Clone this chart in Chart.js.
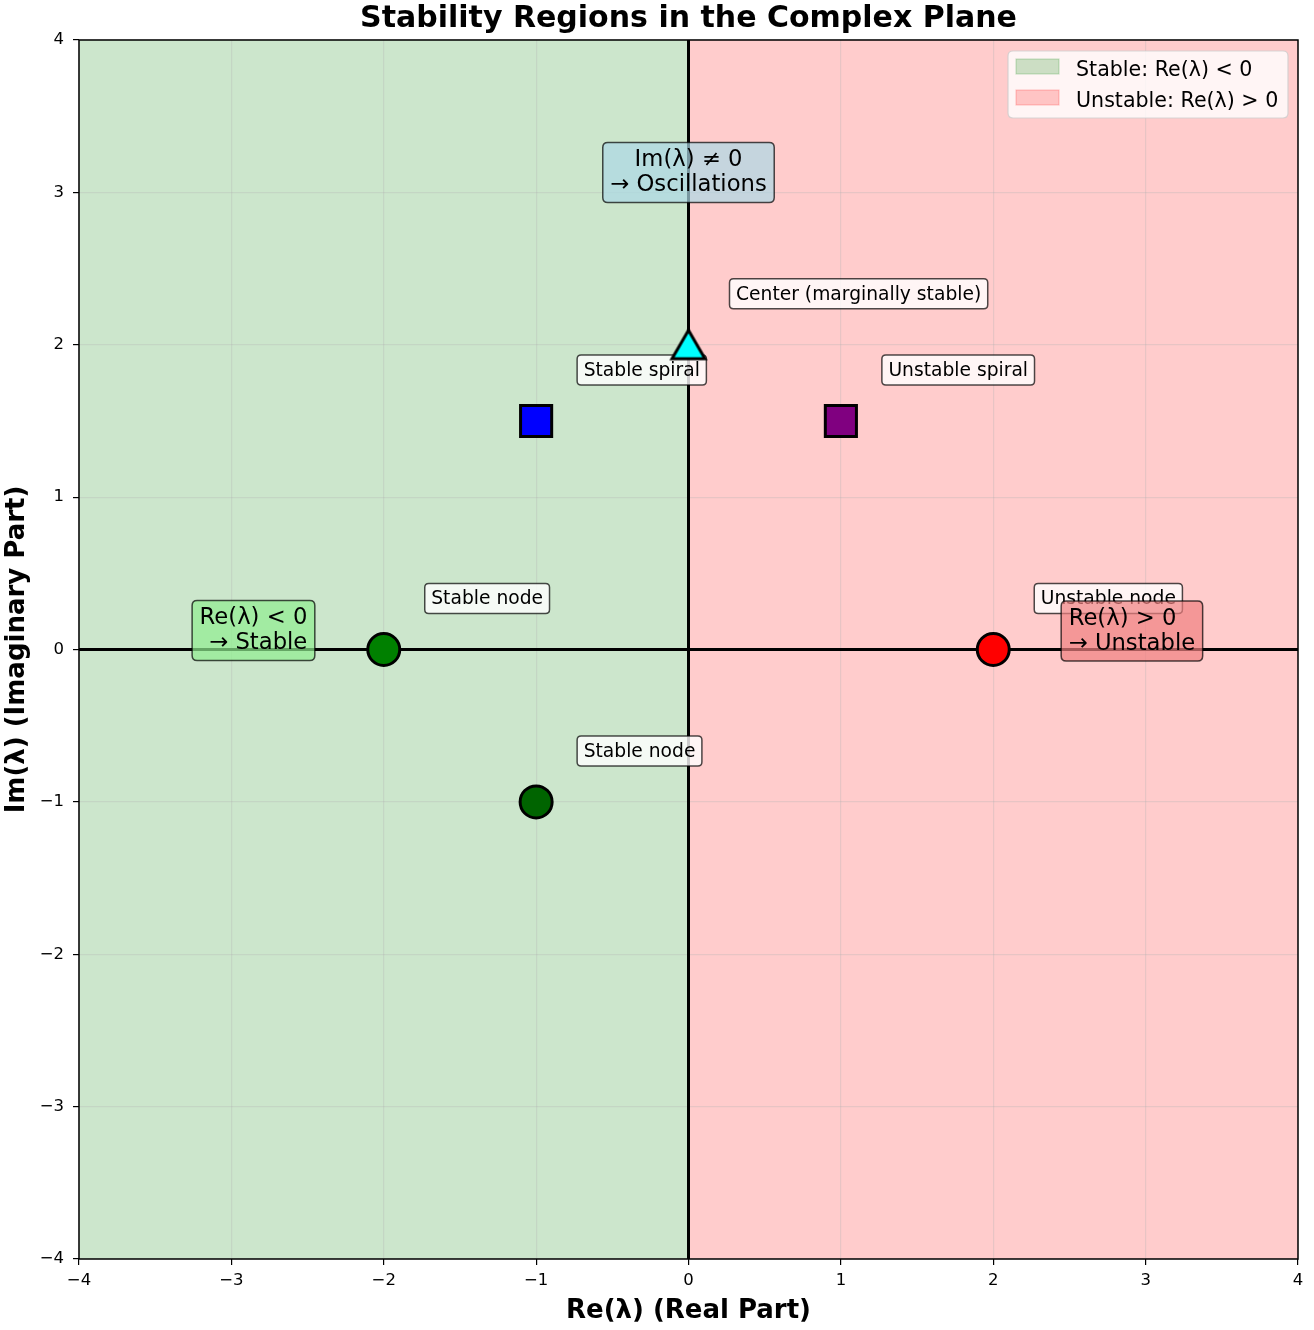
<!DOCTYPE html>
<html>
<head>
<meta charset="utf-8">
<title>Stability Regions in the Complex Plane</title>
<script src="https://cdn.jsdelivr.net/npm/chart.js@4.4.1/dist/chart.umd.min.js"></script>
<style>
  html, body { margin: 0; padding: 0; background: #fff; }
  canvas { display: block; }
</style>
</head>
<body>
<canvas id="grafico" width="1314" height="1330"></canvas>
<script>
// ➤ Datos del gráfico
const xLimits = [-4, 4];
const yLimits = [-4, 4];
const xTicks = [-4, -3, -2, -1, 0, 1, 2, 3, 4];
const yTicks = [-4, -3, -2, -1, 0, 1, 2, 3, 4];

// Regiones (semiplanos)
const regionLabels = ["Stable: Re(λ) < 0", "Unstable: Re(λ) > 0"];
const regionXStart = [-4, 0];
const regionXEnd = [0, 4];
const regionColors = ["rgba(0,128,0,0.2)", "rgba(255,0,0,0.2)"];

// Autovalores de ejemplo
const eigRe = [-2, -1, -1, 1, 0, 2];
const eigIm = [0, -1, 1.5, 1.5, 2, 0];
const eigLabels = ["Stable node", "Stable node", "Stable spiral", "Unstable spiral", "Center (marginally stable)", "Unstable node"];
const eigColors = ["green", "darkgreen", "blue", "purple", "cyan", "red"];
const eigShapes = ["circle", "circle", "rect", "rect", "triangle", "circle"];

// Notas explicativas
const noteTexts = [["Re(λ) < 0", "→ Stable"], ["Re(λ) > 0", "→ Unstable"], ["Im(λ) ≠ 0", "→ Oscillations"]];
const noteX = [-2.855, 2.91, 0];
const noteY = [0.125, 0.122, 3.13];
const noteColors = ["#90EE90", "#F08080", "#ADD8E6"];
const noteAlign = ["right", "left", "center"];

const FONT = "'DejaVu Sans', sans-serif";
const markerRadius = { circle: 16, rect: 22, triangle: 19 };
const MARKERS = 4; // índice del dataset de marcadores

// triángulo centrado en su caja (como el marcador '^')
function triangulo(color) {
    const c = document.createElement("canvas");
    c.width = 40; c.height = 40;
    const g = c.getContext("2d");
    g.beginPath();
    g.moveTo(20, 5.5);
    g.lineTo(3.5, 34);
    g.lineTo(36.5, 34);
    g.closePath();
    g.fillStyle = color;
    g.fill();
    g.strokeStyle = "#000";
    g.lineWidth = 3;
    g.lineJoin = "miter";
    g.stroke();
    return c;
}

function cajaRedonda(ctx, x, y, w, h, r) {
    ctx.beginPath();
    ctx.moveTo(x + r, y);
    ctx.lineTo(x + w - r, y);
    ctx.quadraticCurveTo(x + w, y, x + w, y + r);
    ctx.lineTo(x + w, y + h - r);
    ctx.quadraticCurveTo(x + w, y + h, x + w - r, y + h);
    ctx.lineTo(x + r, y + h);
    ctx.quadraticCurveTo(x, y + h, x, y + h - r);
    ctx.lineTo(x, y + r);
    ctx.quadraticCurveTo(x, y, x + r, y);
    ctx.closePath();
}

// ➤ Cajas de texto, bordes y leyenda
const anotaciones = {
    id: "anotaciones",
    beforeDatasetDraw(chart, args) {
        if (args.index !== MARKERS) return;
        const { ctx, scales: { x, y } } = chart;
        ctx.save();

        // etiquetas de cada punto
        ctx.font = `18.7px ${FONT}`;
        ctx.textAlign = "left";
        ctx.textBaseline = "middle";
        eigLabels.forEach((txt, i) => {
            const px = x.getPixelForValue(eigRe[i]);
            const py = y.getPixelForValue(eigIm[i]);
            const w = ctx.measureText(txt).width + 13;
            const bx = px + 41, by = py - 66;
            cajaRedonda(ctx, bx, by, w, 30, 4);
            ctx.fillStyle = "rgba(255,255,255,0.8)";
            ctx.fill();
            ctx.strokeStyle = "rgba(0,0,0,0.7)";
            ctx.lineWidth = 1.5;
            ctx.stroke();
            ctx.fillStyle = "#000";
            ctx.fillText(txt, bx + 6.5, by + 16);
        });

        // notas grandes
        ctx.font = `22.7px ${FONT}`;
        noteTexts.forEach((lines, i) => {
            const cx = x.getPixelForValue(noteX[i]);
            const cy = y.getPixelForValue(noteY[i]);
            const tw = Math.max(...lines.map(l => ctx.measureText(l).width));
            const w = tw + 15, h = 60;
            const bx = cx - w / 2, by = cy - h / 2;
            cajaRedonda(ctx, bx, by, w, h, 5);
            ctx.globalAlpha = 0.7;
            ctx.fillStyle = noteColors[i];
            ctx.fill();
            ctx.strokeStyle = "#000";
            ctx.lineWidth = 1.5;
            ctx.stroke();
            ctx.globalAlpha = 1;
            ctx.fillStyle = "#000";
            ctx.textAlign = noteAlign[i];
            const tx = noteAlign[i] === "left" ? bx + 7.5 : noteAlign[i] === "right" ? bx + w - 7.5 : cx;
            ctx.fillText(lines[0], tx, cy - 12);
            ctx.fillText(lines[1], tx, cy + 13);
        });
        ctx.restore();
    },
    afterDraw(chart) {
        const { ctx, chartArea: a } = chart;
        ctx.save();
        // marco del área
        ctx.strokeStyle = "#000";
        ctx.lineWidth = 1.5;
        ctx.strokeRect(a.left, a.top, a.right - a.left, a.bottom - a.top);

        // leyenda
        const lx = a.right - 290, ly = a.top + 11, lw = 280, lh = 67;
        cajaRedonda(ctx, lx, ly, lw, lh, 5);
        ctx.fillStyle = "rgba(255,255,255,0.8)";
        ctx.fill();
        ctx.strokeStyle = "rgba(204,204,204,0.8)";
        ctx.lineWidth = 1.2;
        ctx.stroke();
        ctx.font = `20.6px ${FONT}`;
        ctx.textAlign = "left";
        ctx.textBaseline = "alphabetic";
        regionLabels.forEach((lbl, i) => {
            const ds = chart.data.datasets[i];
            const sy = ly + 8 + i * 31;
            ctx.fillStyle = ds.backgroundColor;
            ctx.fillRect(lx + 8, sy, 43, 15);
            ctx.strokeStyle = ds.backgroundColor;
            ctx.lineWidth = 1.2;
            ctx.strokeRect(lx + 8, sy, 43, 15);
            ctx.fillStyle = "#000";
            ctx.fillText(lbl, lx + 68, ly + 25 + i * 31);
        });
        ctx.restore();
    }
};

const menos = v => String(v).replace("-", "\u2212");

const datasets = [
    ...regionLabels.map((lbl, i) => ({
        type: "line",
        label: lbl,
        data: [{ x: regionXStart[i], y: yLimits[1] }, { x: regionXEnd[i], y: yLimits[1] }],
        backgroundColor: regionColors[i],
        borderWidth: 0,
        pointRadius: 0,
        fill: "start",
        order: 30
    })),
    {
        type: "line",
        label: "eje real",
        data: [{ x: xLimits[0], y: 0 }, { x: xLimits[1], y: 0 }],
        borderColor: "#000",
        borderWidth: 3,
        pointRadius: 0,
        fill: false,
        order: 20
    },
    {
        type: "line",
        label: "eje imaginario",
        data: [{ x: 0, y: yLimits[0] }, { x: 0, y: yLimits[1] }],
        borderColor: "#000",
        borderWidth: 3,
        pointRadius: 0,
        fill: false,
        order: 20
    },
    {
        label: "autovalores",
        data: eigRe.map((re, i) => ({ x: re, y: eigIm[i] })),
        pointStyle: eigShapes.map((s, i) => s === "triangle" ? triangulo(eigColors[i]) : s),
        pointRadius: eigShapes.map(s => markerRadius[s]),
        pointBackgroundColor: eigColors,
        pointBorderColor: "#000",
        pointBorderWidth: 3,
        order: 1
    }
];

const ejeComun = (limits, ticks, titulo, fitFn, titlePad) => ({
    type: "linear",
    min: limits[0],
    max: limits[1],
    afterBuildTicks: scale => { scale.ticks = ticks.map(v => ({ value: v })); },
    afterFit: fitFn,
    ticks: {
        color: "#000",
        font: { family: FONT, size: 16.5 },
        callback: v => menos(v)
    },
    grid: {
        color: "rgba(176,176,176,0.3)",
        lineWidth: 1.2,
        tickColor: "#000",
        tickLength: 6,
        tickWidth: 1.2
    },
    border: { display: false },
    title: {
        display: true,
        text: titulo,
        color: "#000",
        font: { family: FONT, size: 26, weight: "bold" },
        padding: titlePad
    }
});

const xAxis = ejeComun(xLimits, xTicks, "Re(λ) (Real Part)", s => {
    s.height = 71;
    s.paddingLeft = 0;
    s.paddingRight = 0;
}, { top: 0, bottom: 3.4 });
xAxis.ticks.padding = 6;
const yAxis = ejeComun(yLimits, yTicks, "Im(λ) (Imaginary Part)", s => {
    s.width = 79;
    s.paddingTop = 0;
    s.paddingBottom = 0;
}, { top: 2, bottom: 0 });
yAxis.ticks.padding = 9;

new Chart(document.getElementById("grafico").getContext("2d"), {
    type: "scatter",
    data: { datasets },
    options: {
        responsive: false,
        animation: false,
        devicePixelRatio: 1,
        events: [],
        layout: { autoPadding: false, padding: { top: 0, right: 16, left: 0, bottom: 0 } },
        scales: { x: xAxis, y: yAxis },
        plugins: {
            filler: { drawTime: "beforeDraw" },
            legend: { display: false },
            tooltip: { enabled: false },
            title: {
                display: true,
                fullSize: false,
                text: "Stability Regions in the Complex Plane",
                color: "#000",
                font: { family: FONT, size: 30, weight: "bold" },
                padding: { top: 1, bottom: 3 }
            }
        }
    },
    plugins: [anotaciones]
});
</script>
</body>
</html>
